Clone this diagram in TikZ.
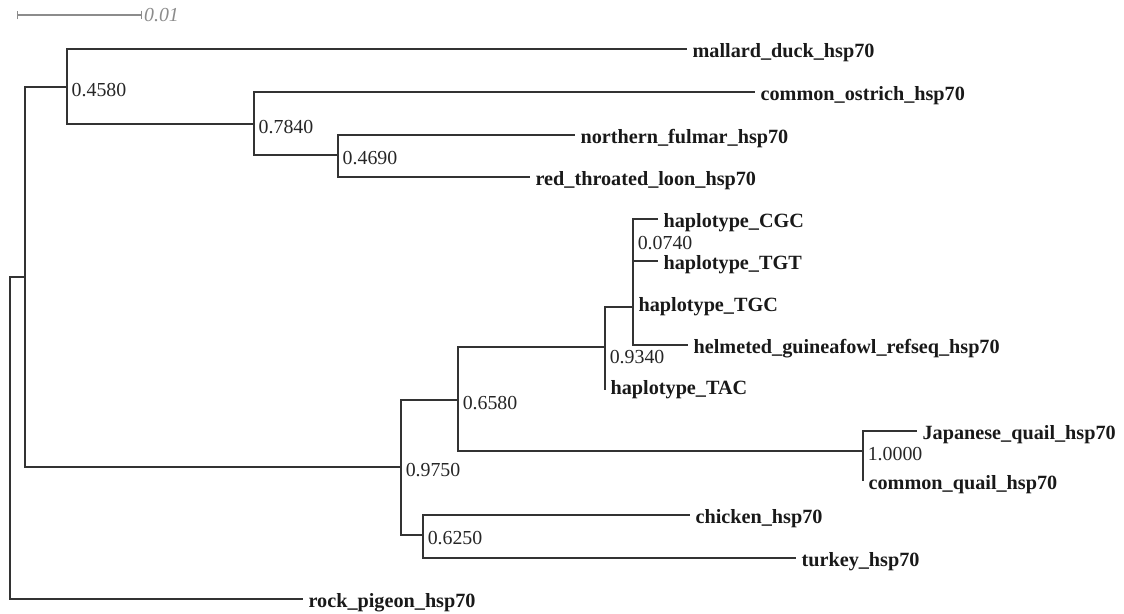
\documentclass[tikz,border=0pt]{standalone}
\usepackage{fontspec}
\setmainfont{Liberation Serif}
\usetikzlibrary{positioning,arrows.meta}
\definecolor{brc}{HTML}{333333}
\definecolor{sbc}{HTML}{8C8C8C}
\tikzset
    {
        br/.style = {draw=brc, line width=0.7pt},
        tip/.style = {anchor=base west, inner xsep=3pt, inner ysep=0pt, yshift=-5pt, text=black!90, font=\fontsize{11.5}{13}\selectfont\bfseries},
        bs/.style = {anchor=west, inner xsep=2.5pt, inner ysep=0pt, yshift=-1.5pt, text=black!85, font=\fontsize{11.3}{13}\selectfont}
    }
\begin{document}
\begin{tikzpicture}[x=0.02cm, y=-0.02cm]
    \useasboundingbox (0,0) rectangle (1124,613);
    \coordinate (sbl) at (17,15);
    \coordinate (sbr) at (142,15);
    \draw[sbc, line width=0.6pt, {Bar[width=5pt]}-{Bar[width=5pt]}] (sbl) -- (sbr);
    \node[anchor=west, inner xsep=1pt, inner ysep=0pt, text=sbc, font=\fontsize{11.3}{13}\selectfont\itshape] (sblab) [right=0pt of sbr] {0.01};

    \coordinate (root) at (10,438);
    \coordinate (nA) at (25,277);
    \coordinate (n0458) at (67,87);
    \coordinate (n0784) at (254,124);
    \coordinate (n0469) at (338,155);
    \coordinate (n0975) at (401,467);
    \coordinate (n0658) at (458,400);
    \coordinate (n0934) at (605,347);
    \coordinate (nsub) at (633,307);
    \coordinate (n0074) at (633,240);
    \coordinate (nqu) at (863,451);
    \coordinate (n0625) at (423,535);

    \coordinate (mallard) at (687,49);
    \coordinate (ostrich) at (755,92);
    \coordinate (fulmar) at (575,135);
    \coordinate (loon) at (530,177);
    \coordinate (cgc) at (658,219);
    \coordinate (tgt) at (658,261);
    \coordinate (tgc) at (633,307);
    \coordinate (guinea) at (688,345);
    \coordinate (tac) at (605,390);
    \coordinate (jquail) at (917,431);
    \coordinate (cquail) at (863,481);
    \coordinate (chicken) at (690,515);
    \coordinate (turkey) at (796,558);
    \coordinate (pigeon) at (303,599);

    \draw[br] (root) |- (nA);
    \draw[br] (root) |- (pigeon);
    \draw[br] (nA) |- (n0458);
    \draw[br] (nA) |- (n0975);
    \draw[br] (n0458) |- (mallard);
    \draw[br] (n0458) |- (n0784);
    \draw[br] (n0784) |- (ostrich);
    \draw[br] (n0784) |- (n0469);
    \draw[br] (n0469) |- (fulmar);
    \draw[br] (n0469) |- (loon);
    \draw[br] (n0975) |- (n0658);
    \draw[br] (n0975) |- (n0625);
    \draw[br] (n0658) |- (n0934);
    \draw[br] (n0658) |- (nqu);
    \draw[br] (n0934) |- (nsub);
    \draw[br] (n0934) |- (tac);
    \draw[br] (nsub) |- (n0074);
    \draw[br] (nsub) |- (guinea);
    \draw[br] (n0074) |- (cgc);
    \draw[br] (n0074) |- (tgt);
    \draw[br] (nqu) |- (jquail);
    \draw[br] (nqu) |- (cquail);
    \draw[br] (n0625) |- (chicken);
    \draw[br] (n0625) |- (turkey);

    \node[bs] (l0458) at (n0458) {0.4580};
    \node[bs] (l0784) at (n0784) {0.7840};
    \node[bs] (l0469) at (n0469) {0.4690};
    \node[bs] (l0975) at (n0975) {0.9750};
    \node[bs] (l0658) at (n0658) {0.6580};
    \node[bs, yshift=-4pt] (l0934) at (n0934) {0.9340};
    \node[bs] (l0074) at (n0074) {0.0740};
    \node[bs] (l1000) at (nqu) {1.0000};
    \node[bs] (l0625) at (n0625) {0.6250};

    \node[tip] (tmallard) at (mallard) {mallard\_duck\_hsp70};
    \node[tip] (tostrich) at (ostrich) {common\_ostrich\_hsp70};
    \node[tip] (tfulmar) at (fulmar) {northern\_fulmar\_hsp70};
    \node[tip] (tloon) at (loon) {red\_throated\_loon\_hsp70};
    \node[tip] (tcgc) at (cgc) {haplotype\_CGC};
    \node[tip] (ttgt) at (tgt) {haplotype\_TGT};
    \node[tip, yshift=2.2pt] (ttgc) at (tgc) {haplotype\_TGC};
    \node[tip] (tguinea) at (guinea) {helmeted\_guineafowl\_refseq\_hsp70};
    \node[tip, yshift=2.2pt] (ttac) at (tac) {haplotype\_TAC};
    \node[tip] (tjquail) at (jquail) {Japanese\_quail\_hsp70};
    \node[tip] (tcquail) at (cquail) {common\_quail\_hsp70};
    \node[tip] (tchicken) at (chicken) {chicken\_hsp70};
    \node[tip] (tturkey) at (turkey) {turkey\_hsp70};
    \node[tip] (tpigeon) at (pigeon) {rock\_pigeon\_hsp70};
\end{tikzpicture}
\end{document}
